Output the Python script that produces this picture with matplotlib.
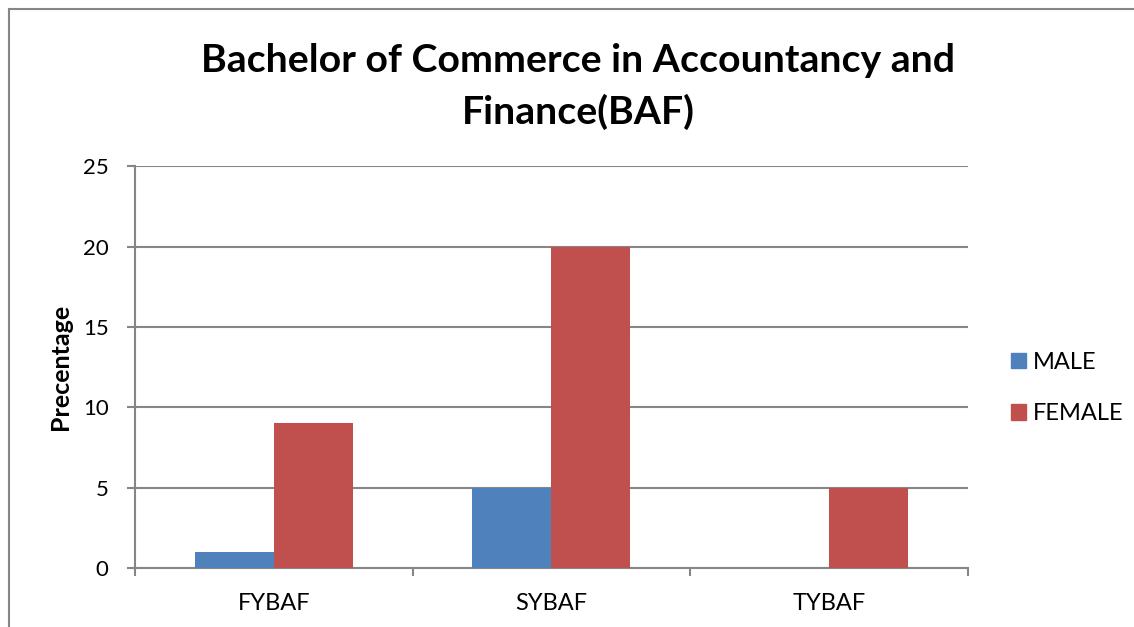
import numpy as np
import matplotlib.pyplot as plt
from matplotlib.lines import Line2D
from matplotlib.patches import Patch

plt.rcParams['font.family'] = ['Lato', 'DejaVu Sans']

years = ['FYBAF', 'SYBAF', 'TYBAF']
male = [1, 5, 0]
female = [9, 20, 5]
yticks = [0, 5, 10, 15, 20, 25]

fig = plt.figure(figsize=(11.34, 6.27), dpi=100)
ax = fig.add_axes([0.119, 0.0941, 0.7345, 0.6404])

x = np.arange(len(years))
w = 0.2845
ax.bar(x - w / 2, male, w, color='#4F81BD', label='MALE', zorder=3)
ax.bar(x + w / 2, female, w, color='#C0504D', label='FEMALE', zorder=3)

ax.set_xlim(-0.5, 2.5)
ax.set_ylim(0, 25)
ax.set_yticks(yticks)
ax.yaxis.grid(True, color='#868686', linewidth=1.5, zorder=0)
ax.set_xticks(x)
ax.set_xticklabels(years)
ax.set_xticks(np.arange(-0.5, 3, 1), minor=True)
ax.tick_params(axis='x', which='major', length=0, pad=18, labelsize=17)
ax.tick_params(axis='x', which='minor', length=6, width=1.5, color='#868686', direction='out')
ax.tick_params(axis='y', length=6, width=1.5, color='#868686', pad=13, labelsize=16)

for s in ['top', 'right']:
    ax.spines[s].set_visible(False)
for s in ['left', 'bottom']:
    ax.spines[s].set_color('#868686')
    ax.spines[s].set_linewidth(1.5)

ax.set_ylabel('Precentage', fontsize=18, fontweight='bold', labelpad=8)

fig.text(0.5096, 0.862, 'Bachelor of Commerce in Accountancy and\nFinance(BAF)',
         ha='center', va='center', fontsize=28.3, fontweight='bold', linespacing=1.5)

handles = [Patch(color='#4F81BD'), Patch(color='#C0504D')]
fig.legend(handles, ['MALE', 'FEMALE'], loc='center left',
           bbox_to_anchor=(0.883, 0.381), frameon=False, fontsize=17,
           handlelength=0.65, handleheight=0.65, handletextpad=0.3,
           labelspacing=1.3, borderaxespad=0)

# outer chart border
fig.add_artist(Line2D([0.0075, 0.0075], [0, 0.9856], color='#868686', lw=1.5))
fig.add_artist(Line2D([0.0075, 1.0], [0.9856, 0.9856], color='#868686', lw=1.5))

fig.savefig('out.png', dpi=100)
